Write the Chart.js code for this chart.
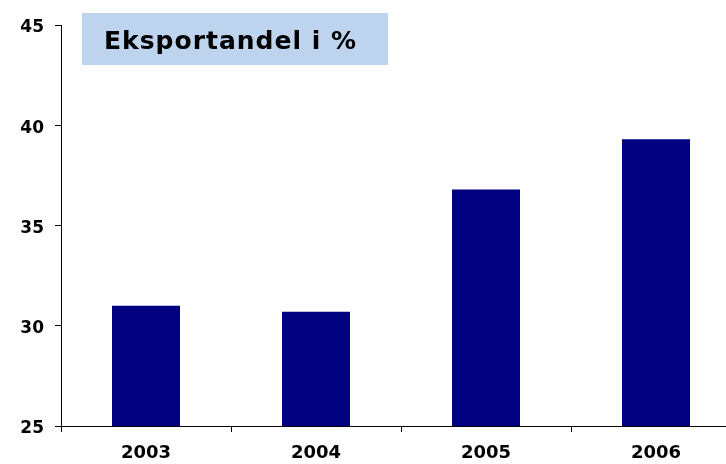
<!DOCTYPE html>
<html>
<head>
<meta charset="utf-8">
<title>Eksportandel i %</title>
<script src="https://cdn.jsdelivr.net/npm/chart.js@4.4.1/dist/chart.umd.min.js"></script>
<style>
    body { margin: 0; overflow: hidden; background: #fff; }
    #wrap { width: 750px; height: 464px; }
</style>
</head>
<body>
<div id="wrap"><canvas id="eksportChart" width="750" height="464"></canvas></div>
<script>
const years = ['2003', '2004', '2005', '2006'];
const exportShare = [31.0, 30.7, 36.8, 39.3];
const yTicks = [25, 30, 35, 40, 45];
const titleText = 'Eksportandel i %';

// lyseblå boks med tittel oppe til venstre
const titleBox = {
    id: 'titleBox',
    afterDraw(chart) {
        const ctx = chart.ctx;
        ctx.save();
        ctx.fillStyle = '#BDD3EE';
        ctx.fillRect(82, 13, 306, 52);
        ctx.fillStyle = '#000';
        ctx.font = 'bold 25px "DejaVu Sans"';
        ctx.letterSpacing = '1px';
        ctx.textBaseline = 'alphabetic';
        ctx.fillText(titleText, 104, 49);
        ctx.restore();
    }
};

document.addEventListener('DOMContentLoaded', () => {
    const ctx = document.getElementById('eksportChart').getContext('2d');
    window.myChartInstance = new Chart(ctx, {
        type: 'bar',
        data: {
            labels: years,
            datasets: [{
                data: exportShare,
                backgroundColor: '#000080',
                borderWidth: 0,
                barPercentage: 0.4,
                categoryPercentage: 1
            }]
        },
        options: {
            responsive: false,
            animation: false,
            layout: { padding: { left: 0, right: 9, top: 25, bottom: 0 } },
            plugins: {
                legend: { display: false },
                tooltip: { enabled: false },
                title: { display: false }
            },
            scales: {
                x: {
                    grid: {
                        display: true,
                        drawOnChartArea: false,
                        drawTicks: true,
                        tickLength: 6,
                        color: '#000',
                        offset: true
                    },
                    border: { display: true, color: '#000', width: 1 },
                    ticks: {
                        color: '#000',
                        padding: 11,
                        font: { family: 'DejaVu Sans', size: 18, weight: 'bold' }
                    },
                    afterFit: (axis) => { axis.height = 38; }
                },
                y: {
                    min: 25,
                    max: 45,
                    afterBuildTicks: (axis) => {
                        axis.ticks = yTicks.map(v => ({ value: v }));
                    },
                    grid: {
                        display: true,
                        drawOnChartArea: false,
                        drawTicks: true,
                        tickLength: 6,
                        color: '#000'
                    },
                    border: { display: true, color: '#000', width: 1 },
                    ticks: {
                        color: '#000',
                        padding: 11,
                        labelOffset: 3,
                        font: { family: 'DejaVu Sans', size: 17, weight: 'bold' }
                    },
                    afterFit: (axis) => { axis.width = 61; }
                }
            }
        },
        plugins: [titleBox]
    });
});
</script>
</body>
</html>
